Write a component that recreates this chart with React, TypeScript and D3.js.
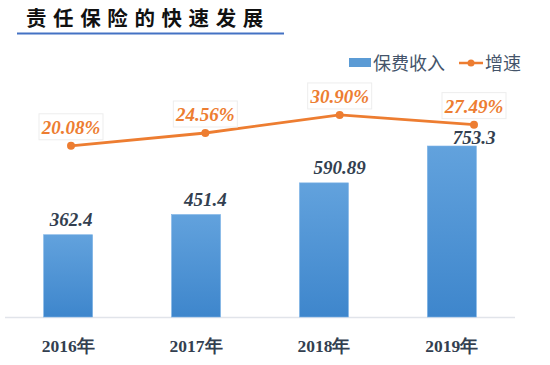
import React from "react";
import * as d3 from "d3";

const categories = ["2016年", "2017年", "2018年", "2019年"];
const premiums = [362.4, 451.4, 590.89, 753.3];
const premiumLabels = ["362.4", "451.4", "590.89", "753.3"];
const growth = [20.08, 24.56, 30.9, 27.49];
const growthLabels = ["20.08%", "24.56%", "30.90%", "27.49%"];
const title = "责任保险的快速发展";
const legendNames = ["保费收入", "增速"];

const W = 550;
const H = 365;

export default function App() {
  const xBar = d3.scaleBand<string>().domain(categories).range([4, 516]).paddingInner(0.617).paddingOuter(0.31);
  const xLine = d3.scalePoint<string>().domain(categories).range([71, 474]);
  const yBar = d3.scaleLinear().domain([0, 800]).range([317, 317 - 800 * 0.227]);
  const yLine = d3.scaleLinear().domain([0, 35]).range([203, 203 - 35 * 2.85]);

  const lineGen = d3
    .line<number>()
    .x((_, i) => xLine(categories[i]) as number)
    .y((d) => yLine(d));

  const serif = "'Liberation Serif', 'Times New Roman', serif";
  const sans = "'Noto Sans CJK SC', 'Microsoft YaHei', sans-serif";

  return (
    <svg width={W} height={H} style={{ position: "absolute", left: 0, top: 0, background: "#fff" }}>
      <defs>
        <linearGradient id="barGrad" x1="0" y1="0" x2="0" y2="1">
          <stop offset="0%" stopColor="#62A2DD" />
          <stop offset="100%" stopColor="#3E86CC" />
        </linearGradient>
      </defs>
      {/* title */}
      <text x={26} y={26} fontFamily={sans} fontWeight={700} fontSize={20.5} letterSpacing={6.6} fill="#111">
        {title}
      </text>
      <line x1={17} x2={284} y1={33.5} y2={33.5} stroke="#4472C4" strokeWidth={1.8} />

      {/* legend */}
      <rect x={349} y={58} width={22} height={9} fill="#5B9BD5" />
      <text x={373} y={69.5} fontFamily={sans} fontSize={18} fill="#44546A">
        {legendNames[0]}
      </text>
      <line x1={459} x2={483} y1={63} y2={63} stroke="#ED7D31" strokeWidth={2.5} />
      <circle cx={471} cy={63} r={3.5} fill="#ED7D31" />
      <text x={485} y={69.5} fontFamily={sans} fontSize={18} fill="#44546A">
        {legendNames[1]}
      </text>

      {/* axis baseline */}
      <line x1={5} x2={515} y1={317.5} y2={317.5} stroke="#E1E4EA" strokeWidth={1.5} />

      {/* bars */}
      {premiums.map((v, i) => (
        <rect
          key={"b" + i}
          x={xBar(categories[i])}
          y={yBar(v)}
          width={xBar.bandwidth()}
          height={yBar(0) - yBar(v)}
          fill="url(#barGrad)"
          stroke="#7DB3E6"
          strokeWidth={0.6}
        />
      ))}

      {/* bar labels: above the bar, but kept clear of the growth line */}
      {premiums.map((v, i) => (
        <text
          key={"bl" + i}
          x={xLine(categories[i])}
          y={Math.max(yBar(v) - 9, yLine(growth[i]) + 19)}
          textAnchor="middle"
          fontFamily={serif}
          fontStyle="italic"
          fontWeight={700}
          fontSize={19}
          fill="#333F50"
        >
          {premiumLabels[i]}
        </text>
      ))}

      {/* line */}
      <path d={lineGen(growth) || ""} fill="none" stroke="#ED7D31" strokeWidth={2.8} />
      {growth.map((v, i) => (
        <circle key={"c" + i} cx={xLine(categories[i])} cy={yLine(v)} r={4} fill="#ED7D31" />
      ))}

      {/* growth labels with faint boxes */}
      {growth.map((v, i) => {
        const cx = xLine(categories[i]) as number;
        const by = yLine(v) - 12;
        return (
          <g key={"gl" + i}>
            <rect x={cx - 32} y={by - 20} width={64} height={26} fill="#fff" fillOpacity={0.6} stroke="#EDEDED" strokeWidth={1} />
            <text
              x={cx}
              y={by}
              textAnchor="middle"
              fontFamily={serif}
              fontStyle="italic"
              fontWeight={700}
              fontSize={19}
              fill="#ED7D31"
            >
              {growthLabels[i]}
            </text>
          </g>
        );
      })}

      {/* x axis labels */}
      {categories.map((c, i) => (
        <text
          key={"x" + i}
          x={(xBar(c) as number) + xBar.bandwidth() / 2}
          y={352}
          textAnchor="middle"
          fontFamily={serif}
          fontWeight={700}
          fontSize={17.5}
          fill="#333F50"
        >
          {c}
        </text>
      ))}
    </svg>
  );
}
